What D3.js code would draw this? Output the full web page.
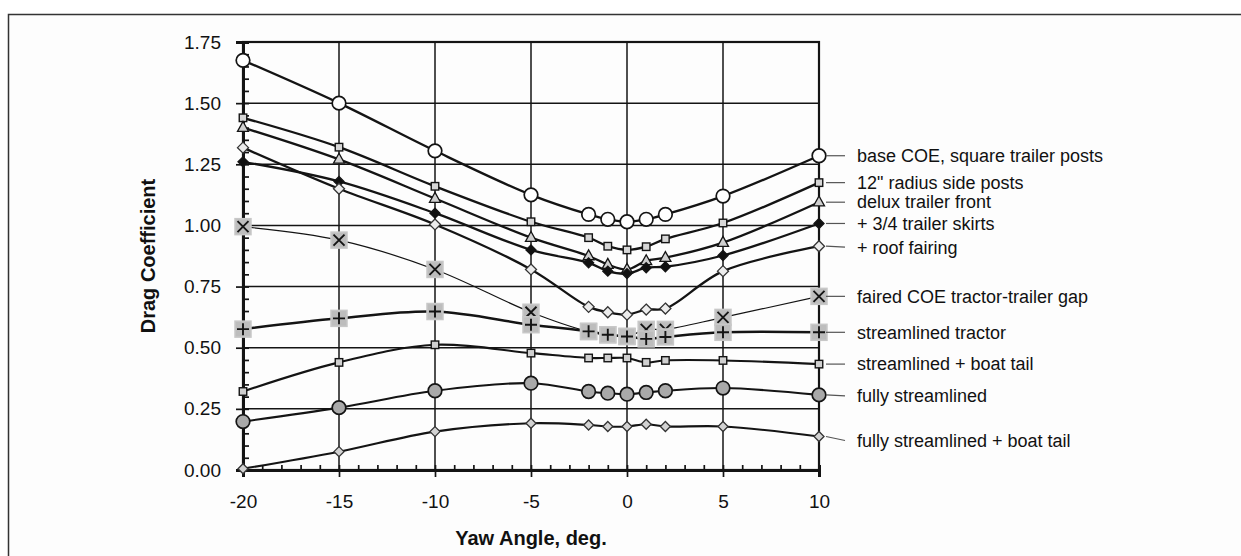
<!DOCTYPE html>
<html>
<head>
<meta charset="utf-8">
<script src="https://cdn.jsdelivr.net/npm/d3@7"></script>
<style>
  html, body { margin: 0; padding: 0; background: #fff; }
  svg { display: block; font-family: "Liberation Sans", Arial, sans-serif; }
</style>
</head>
<body>
<svg id="chart" width="1241" height="556"></svg>
<script>
// Yaw angles (deg) at which the drag coefficient was measured
const yawAngles = [-20, -15, -10, -5, -2, -1, 0, 1, 2, 5, 10];

const seriesNames = [
  "base COE, square trailer posts",
  "12\" radius side posts",
  "delux trailer front",
  "+ 3/4 trailer skirts",
  "+ roof fairing",
  "faired COE tractor-trailer gap",
  "streamlined tractor",
  "streamlined + boat tail",
  "fully streamlined",
  "fully streamlined + boat tail"
];

// Drag coefficient per configuration, one value per yaw angle
const baseCOE        = [1.675, 1.50, 1.305, 1.125, 1.045, 1.025, 1.015, 1.025, 1.045, 1.12, 1.285];
const radiusPosts    = [1.44, 1.32, 1.16, 1.015, 0.95, 0.915, 0.90, 0.913, 0.945, 1.01, 1.175];
const deluxFront     = [1.40, 1.27, 1.11, 0.95, 0.875, 0.84, 0.82, 0.855, 0.868, 0.93, 1.095];
const trailerSkirts  = [1.26, 1.18, 1.05, 0.90, 0.847, 0.813, 0.803, 0.827, 0.831, 0.877, 1.008];
const roofFairing    = [1.318, 1.15, 1.004, 0.82, 0.667, 0.645, 0.635, 0.656, 0.66, 0.813, 0.915];
const fairedGap      = [0.995, 0.94, 0.82, 0.645, 0.566, 0.553, 0.546, 0.575, 0.575, 0.624, 0.71];
const streamTractor  = [0.576, 0.62, 0.648, 0.594, 0.567, 0.553, 0.546, 0.536, 0.544, 0.563, 0.563];
const streamBoatTail = [0.321, 0.44, 0.512, 0.478, 0.458, 0.458, 0.458, 0.44, 0.448, 0.448, 0.433];
const fullyStream    = [0.198, 0.255, 0.324, 0.355, 0.321, 0.314, 0.31, 0.317, 0.324, 0.335, 0.307];
const fullyBoatTail  = [0.005, 0.075, 0.157, 0.191, 0.184, 0.178, 0.178, 0.187, 0.178, 0.178, 0.137];

const xTicks = [-20, -15, -10, -5, 0, 5, 10];
const yTicks = [0, 0.25, 0.5, 0.75, 1.0, 1.25, 1.5, 1.75];

const seriesValues = [baseCOE, radiusPosts, deluxFront, trailerSkirts, roofFairing,
                      fairedGap, streamTractor, streamBoatTail, fullyStream, fullyBoatTail];

// Marker and line styling per series
const styles = [
  { shape: "circle",   size: 6.8, fill: "#ffffff", lw: 2.3 },
  { shape: "square",   size: 7.5, fill: "#d6d6d6", lw: 2.3 },
  { shape: "triangle", size: 11,  fill: "#cfcfcf", lw: 2.3 },
  { shape: "diamond",  size: 10,  fill: "#111111", lw: 2.3 },
  { shape: "diamond",  size: 11,  fill: "#ececec", lw: 2.3 },
  { shape: "times",    size: 11,  fill: "#bdbdbd", lw: 1.2 },
  { shape: "plus",     size: 12,  fill: "#bdbdbd", lw: 2.5 },
  { shape: "square",   size: 7.5, fill: "#d0d0d0", lw: 2.1 },
  { shape: "circle",   size: 6.8, fill: "#a9a9a9", lw: 2.1 },
  { shape: "diamond",  size: 10,  fill: "#d2d2d2", lw: 2.1 }
];
const labelNudge = [0, 0, 0, 0, 1, 0, 0, 0, 1, 4];

const svg = d3.select("#chart");
const ink = "#141414";

// outer frame
svg.append("rect")
  .attr("x", 8.5).attr("y", 14.5)
  .attr("width", 1300).attr("height", 600)
  .attr("fill", "#fdfdfd").attr("stroke", "#333").attr("stroke-width", 1.5);

const x = d3.scaleLinear().domain([-20, 10]).range([243, 819]);
const y = d3.scaleLinear().domain([0, 1.75]).range([470, 42]);

// grid
const grid = svg.append("g").attr("stroke", ink).attr("stroke-width", 1.5);
grid.selectAll("line.h").data(yTicks).join("line")
  .attr("x1", x(-20)).attr("x2", x(10))
  .attr("y1", d => y(d)).attr("y2", d => y(d));
grid.selectAll("line.v").data(xTicks).join("line")
  .attr("y1", y(0)).attr("y2", y(1.75))
  .attr("x1", d => x(d)).attr("x2", d => x(d));

// plot border
svg.append("rect")
  .attr("x", x(-20)).attr("y", y(1.75))
  .attr("width", x(10) - x(-20)).attr("height", y(0) - y(1.75))
  .attr("fill", "none").attr("stroke", ink).attr("stroke-width", 2.2);

// axes
const yMinor = d3.range(0, 1.7501, 0.05);
const xMinor = d3.range(-20, 10.001, 1);

const yAxis = svg.append("g").attr("transform", `translate(${x(-20)},0)`)
  .call(d3.axisLeft(y).tickValues(yTicks).tickFormat(d3.format(".2f")).tickSize(7).tickPadding(15));
const yAxisMinor = svg.append("g").attr("transform", `translate(${x(-20)},0)`)
  .call(d3.axisRight(y).tickValues(yMinor).tickFormat("").tickSize(6));
const xAxis = svg.append("g").attr("transform", `translate(0,${y(0)})`)
  .call(d3.axisBottom(x).tickValues(xTicks).tickFormat(d => String(d)).tickSize(7).tickPadding(18));
const xAxisMinor = svg.append("g").attr("transform", `translate(0,${y(0)})`)
  .call(d3.axisTop(x).tickValues(xMinor).tickFormat("").tickSize(5));

[yAxis, yAxisMinor, xAxis, xAxisMinor].forEach(g => {
  g.select(".domain").attr("stroke", ink).attr("stroke-width", 3);
  g.selectAll(".tick line").attr("stroke", ink).attr("stroke-width", 1.7);
  g.selectAll(".tick text")
    .attr("fill", "#111").attr("font-size", 19)
    .attr("font-family", "'Liberation Sans', Arial, sans-serif");
});
xAxis.selectAll(".tick text").attr("dy", "0.71em");

// axis titles
svg.append("text")
  .attr("transform", `translate(155,${(y(0) + y(1.75)) / 2}) rotate(-90)`)
  .attr("text-anchor", "middle").attr("font-size", 20).attr("font-weight", "bold")
  .attr("fill", "#111").text("Drag Coefficient");
svg.append("text")
  .attr("x", (x(-20) + x(10)) / 2).attr("y", 545)
  .attr("text-anchor", "middle").attr("font-size", 20).attr("font-weight", "bold")
  .attr("fill", "#111").text("Yaw Angle, deg.");

// series lines
const line = d3.line()
  .x((d, i) => x(yawAngles[i]))
  .y(d => y(d))
  .curve(d3.curveCatmullRom.alpha(0.5));

const plot = svg.append("g");
seriesValues.forEach((vals, s) => {
  plot.append("path")
    .datum(vals)
    .attr("d", line)
    .attr("fill", "none")
    .attr("stroke", ink)
    .attr("stroke-width", styles[s].lw)
    .attr("stroke-linejoin", "round");
});

// markers
function drawMarker(g, st) {
  const r = st.size / 2;
  if (st.shape === "circle") {
    g.append("circle").attr("r", st.size)
      .attr("fill", st.fill).attr("stroke", ink).attr("stroke-width", 1.7);
  } else if (st.shape === "square") {
    g.append("rect").attr("x", -r).attr("y", -r).attr("width", st.size).attr("height", st.size)
      .attr("fill", st.fill).attr("stroke", ink).attr("stroke-width", 1.4);
  } else if (st.shape === "triangle") {
    const h = st.size * 0.9;
    g.append("path").attr("d", `M0,${-h * 0.62}L${r},${h * 0.38}L${-r},${h * 0.38}Z`)
      .attr("fill", st.fill).attr("stroke", ink).attr("stroke-width", 1.3);
  } else if (st.shape === "diamond") {
    g.append("path").attr("d", `M0,${-r}L${r},0L0,${r}L${-r},0Z`)
      .attr("fill", st.fill).attr("stroke", st.fill === "#111111" ? ink : "#333").attr("stroke-width", 1.3);
  } else if (st.shape === "times" || st.shape === "plus") {
    g.append("rect").attr("x", -8).attr("y", -8).attr("width", 16).attr("height", 16)
      .attr("fill", st.fill).attr("stroke", "#c8c8c8").attr("stroke-width", 1.5);
    const p = st.shape === "times"
      ? `M${-r},${-r}L${r},${r}M${-r},${r}L${r},${-r}`
      : `M${-r},0L${r},0M0,${-r}L0,${r}`;
    g.append("path").attr("d", p).attr("stroke", ink).attr("stroke-width", 1.9).attr("fill", "none");
  }
}

seriesValues.forEach((vals, s) => {
  vals.forEach((v, i) => {
    const g = plot.append("g").attr("transform", `translate(${x(yawAngles[i])},${y(v)})`);
    drawMarker(g, styles[s]);
  });
});

// series labels to the right of the plot
const labels = svg.append("g");
seriesValues.forEach((vals, s) => {
  const last = vals[vals.length - 1];
  const ly = y(last) + labelNudge[s];
  labels.append("line")
    .attr("x1", x(10) + 7).attr("y1", y(last))
    .attr("x2", 845).attr("y2", ly)
    .attr("stroke", "#555").attr("stroke-width", 1.2);
  labels.append("text")
    .attr("x", 857).attr("y", ly).attr("dy", "0.35em")
    .attr("font-size", 18).attr("fill", "#111")
    .text(seriesNames[s]);
});
</script>
</body>
</html>
